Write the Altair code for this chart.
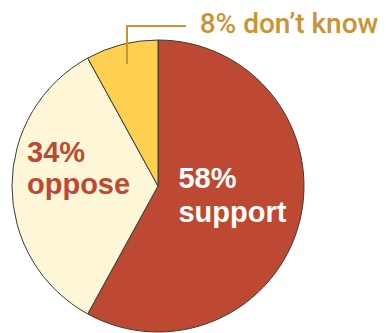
import altair as alt
import pandas as pd

# ---- data ----
categories = ["support", "oppose", "don’t know"]
values = [58, 34, 8]
order = [1, 2, 3]
labels = ["58%\nsupport", "34%\noppose", "8% don’t know"]

# ---- styles ----
slice_colors = ["#BD4932", "#FDF7D8", "#FDD14F"]
red = "#BD4932"
gold = "#C99336"
CX, CY, R = 158, 186, 146

df = pd.DataFrame({"category": categories, "value": values, "order": order, "label": labels})

theta_scale = alt.Scale(domain=[0, 100])

pie = alt.Chart(df).mark_arc(
    radius=R, stroke="#3a3a3a", strokeWidth=1
).encode(
    theta=alt.Theta("value:Q", stack=True, scale=theta_scale),
    color=alt.Color("category:N", scale=alt.Scale(domain=categories, range=slice_colors), legend=None),
    order=alt.Order("order:Q"),
    x=alt.value(CX),
    y=alt.value(CY),
)

base = alt.Chart(df).transform_window(
    cum="sum(value)", sort=[alt.SortField("order")], frame=[None, 0]
).transform_calculate(mid="datum.cum - datum.value / 2")


def label_layer(cat, radius, **mark):
    return base.transform_filter(alt.datum.category == cat).mark_text(
        align="left", baseline="alphabetic", lineBreak="\n", **mark
    ).encode(
        theta=alt.Theta("mid:Q", scale=theta_scale),
        radius=alt.value(radius),
        text="label:N",
        x=alt.value(CX),
        y=alt.value(CY),
    )


support_lbl = label_layer("support", 80, dx=-57, dy=-18, lineHeight=34, fontSize=29,
                          fontWeight="bold", color="white", font="Liberation Sans")
oppose_lbl = label_layer("oppose", 80, dx=-51, dy=-24, lineHeight=32, fontSize=29,
                         fontWeight="bold", color=red, font="Liberation Sans")
dk_lbl = label_layer("don’t know", R, dx=78, dy=-12, fontSize=28, fontWeight=500,
                     color=gold, font="Roboto")

leader_v = alt.Chart(df).mark_rule(color=gold, strokeWidth=2).encode(
    x=alt.value(127), y=alt.value(26), y2=alt.value(64)
).transform_filter(alt.datum.category == "don’t know")
leader_h = alt.Chart(df).mark_rule(color=gold, strokeWidth=2).encode(
    x=alt.value(126), x2=alt.value(186), y=alt.value(26)
).transform_filter(alt.datum.category == "don’t know")

chart = alt.layer(pie, leader_v, leader_h, support_lbl, oppose_lbl, dk_lbl).properties(
    width=386, height=333, autosize=alt.AutoSizeParams(type="none"), padding=0,
    background="white",
).configure_view(stroke=None)

chart.save("out.html", embed_options={"renderer": "svg", "actions": False})
